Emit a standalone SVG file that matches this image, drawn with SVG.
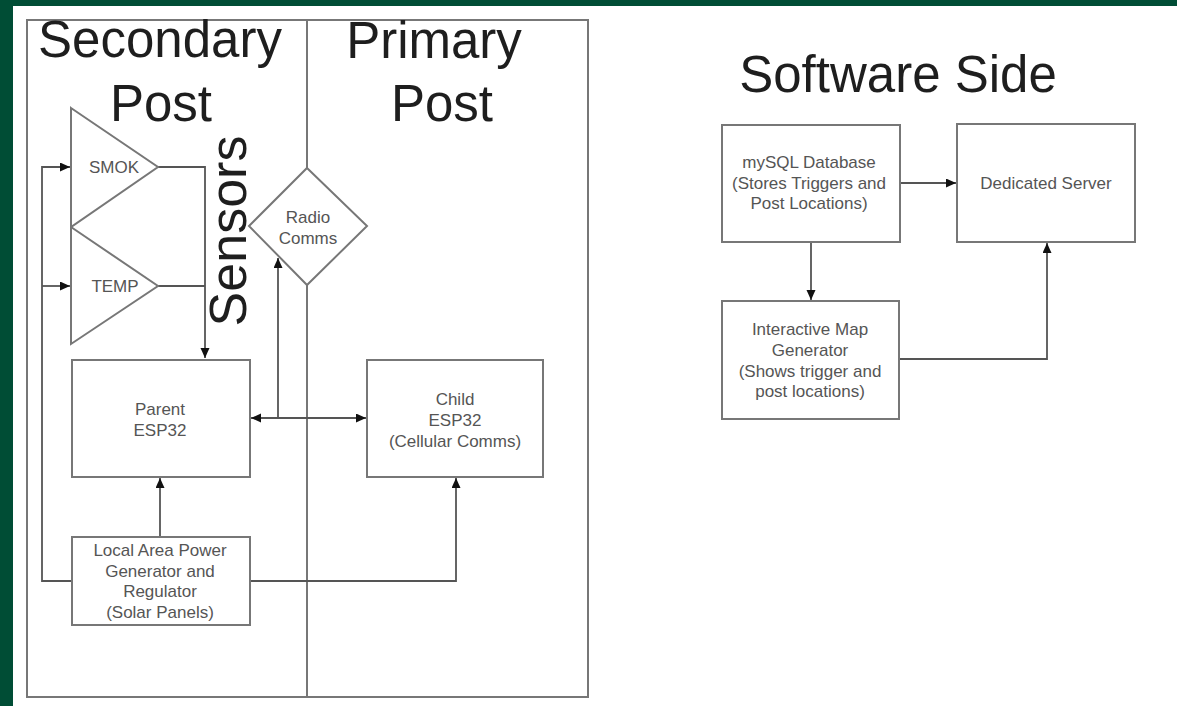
<svg xmlns="http://www.w3.org/2000/svg" width="1177" height="706" viewBox="0 0 1177 706">
<defs>
<marker id="arr" markerUnits="userSpaceOnUse" markerWidth="12" markerHeight="10" refX="10" refY="4.5" orient="auto-start-reverse" viewBox="0 0 12 10">
<path d="M0,0 L10,4.5 L0,9 Z" fill="#111"/>
</marker>
<style>
.box{fill:#fff;stroke:#777;stroke-width:2}
.con{fill:none;stroke:#555;stroke-width:1.8}
.lbl{font-family:"Liberation Sans",Arial,sans-serif;font-size:17px;fill:#555;text-anchor:middle}
.ttl{font-family:"Liberation Sans",Arial,sans-serif;font-size:51px;fill:#1e1e1e;text-anchor:middle}
</style>
</defs>
<rect x="0" y="0" width="1177" height="706" fill="#fff"/>
<rect x="0" y="0" width="1177" height="6" fill="#004d35"/>
<rect x="0" y="0" width="13" height="706" fill="#004d35"/>

<g id="frame">
<rect x="27" y="20" width="561" height="677" fill="none" stroke="#777" stroke-width="2"/>
<line x1="307" y1="20" x2="307" y2="168" stroke="#777" stroke-width="2"/>
<line x1="307" y1="285" x2="307" y2="697" stroke="#777" stroke-width="2"/>
</g>

<g id="titles">
<text class="ttl" x="160" y="57">Secondary</text>
<text class="ttl" x="161" y="121">Post</text>
<text class="ttl" x="434" y="58">Primary</text>
<text class="ttl" x="442" y="121">Post</text>
<text class="ttl" x="898" y="92">Software Side</text>
<text class="ttl" x="0" y="0" font-size="52" transform="translate(246,231) rotate(-90)" style="font-size:52px">Sensors</text>
</g>

<g id="connectors">
<polyline class="con" points="72,581 42,581 42,167 70,167" marker-end="url(#arr)"/>
<polyline class="con" points="42,286 70,286" marker-end="url(#arr)"/>
<polyline class="con" points="158,167 205,167 205,358" marker-end="url(#arr)"/>
<polyline class="con" points="158,286 205,286"/>
<line class="con" x1="251" y1="418" x2="366" y2="418" marker-start="url(#arr)" marker-end="url(#arr)"/>
<polyline class="con" points="278,418 278,258" marker-end="url(#arr)"/>
<polyline class="con" points="160,537 160,478" marker-end="url(#arr)"/>
<polyline class="con" points="250,581 456,581 456,478" marker-end="url(#arr)"/>
<polyline class="con" points="900,183 956,183" marker-end="url(#arr)"/>
<polyline class="con" points="811,242 811,300" marker-end="url(#arr)"/>
<polyline class="con" points="900,359 1047,359 1047,243" marker-end="url(#arr)"/>
</g>

<g id="smok">
<polygon class="box" points="71,108 158,167 71,227" fill="none"/>
<text class="lbl" x="114" y="173">SMOK</text>
</g>
<g id="temp">
<polygon class="box" points="71,227 158,286 71,344" fill="none"/>
<text class="lbl" x="115" y="292">TEMP</text>
</g>

<g id="radio">
<polygon class="box" points="307,168 367,226 307,285 249,226"/>
<text class="lbl" x="308" y="223">Radio</text>
<text class="lbl" x="308" y="244">Comms</text>
</g>

<g id="parent">
<rect class="box" x="72" y="360" width="178" height="117"/>
<text class="lbl" x="160" y="415">Parent</text>
<text class="lbl" x="160" y="436">ESP32</text>
</g>

<g id="child">
<rect class="box" x="367" y="360" width="176" height="117"/>
<text class="lbl" x="455" y="405">Child</text>
<text class="lbl" x="455" y="426">ESP32</text>
<text class="lbl" x="455" y="447">(Cellular Comms)</text>
</g>

<g id="power">
<rect class="box" x="72" y="537" width="178" height="88"/>
<text class="lbl" x="160" y="556">Local Area Power</text>
<text class="lbl" x="160" y="577">Generator and</text>
<text class="lbl" x="160" y="597">Regulator</text>
<text class="lbl" x="160" y="618">(Solar Panels)</text>
</g>

<g id="mysql">
<rect class="box" x="722" y="125" width="178" height="117"/>
<text class="lbl" x="809" y="168">mySQL Database</text>
<text class="lbl" x="809" y="189">(Stores Triggers and</text>
<text class="lbl" x="809" y="209">Post Locations)</text>
</g>

<g id="server">
<rect class="box" x="957" y="124" width="178" height="118"/>
<text class="lbl" x="1046" y="189">Dedicated Server</text>
</g>

<g id="map">
<rect class="box" x="722" y="301" width="177" height="118"/>
<text class="lbl" x="810" y="335">Interactive Map</text>
<text class="lbl" x="810" y="356">Generator</text>
<text class="lbl" x="810" y="377">(Shows trigger and</text>
<text class="lbl" x="810" y="397">post locations)</text>
</g>
</svg>
